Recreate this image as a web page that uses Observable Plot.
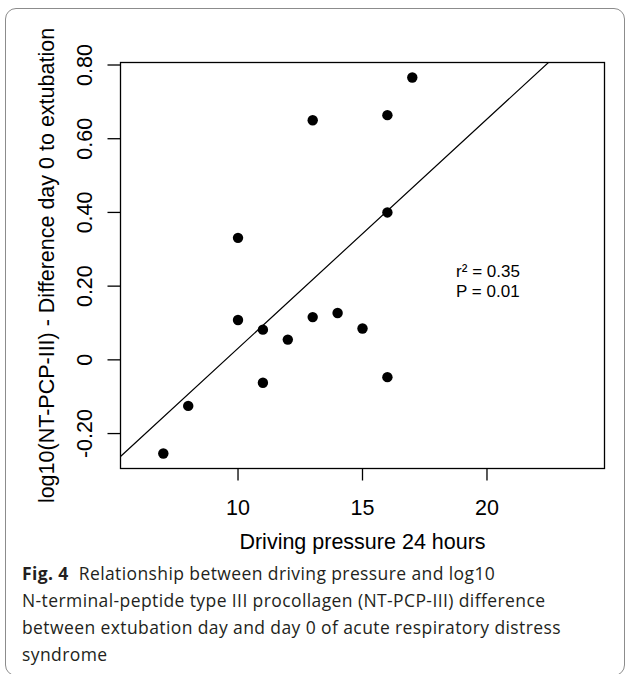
<!DOCTYPE html>
<html><head><meta charset="utf-8">
<script src="https://cdn.jsdelivr.net/npm/d3@7"></script>
<script src="https://cdn.jsdelivr.net/npm/@observablehq/plot@0.6"></script>
<style>
html,body{margin:0;padding:0;background:#fff;overflow:hidden}
#wrap{position:relative;width:626px;height:674px;overflow:hidden}
#border{position:absolute;left:5px;top:7.5px;width:620px;height:668px;border:1.5px solid #8c8c8c;border-radius:11px;box-sizing:border-box}
#chart{position:absolute;left:0;top:0}
#caption{position:absolute;left:22px;top:560px;width:600px;font-family:"Open Sans";font-size:17.5px;letter-spacing:0.4px;line-height:27px;color:#231f20;white-space:nowrap}
#caption b{margin-right:5px}
</style></head><body>
<div id="wrap"><div id="border"></div><div id="chart"></div>
<div id="caption"><b>Fig. 4</b> Relationship between driving pressure and log10<br>N-terminal-peptide type III procollagen (NT-PCP-III) difference<br>between extubation day and day 0 of acute respiratory distress<br>syndrome</div></div>
<script>
// Data
const drivingPressure = [7, 8, 10, 10, 11, 11, 12, 13, 13, 14, 15, 16, 16, 16, 17];
const ntpcpDiff = [-0.254, -0.125, 0.331, 0.108, 0.082, -0.062, 0.055, 0.650, 0.116, 0.127, 0.085, 0.664, 0.400, -0.047, 0.766];
const xTicks = [10, 15, 20];
const yTicks = [-0.2, 0, 0.2, 0.4, 0.6, 0.8];
const yTickLabels = ["-0.20", "0", "0.20", "0.40", "0.60", "0.80"];
const xLimits = [6, 24];
const statsLines = ["r\u00B2 = 0.35", "P = 0.01"];
const xTitle = "Driving pressure 24 hours";
const yTitle = "log10(NT-PCP-III) - Difference day 0 to extubation";

const points = drivingPressure.map((x, i) => ({x, y: ntpcpDiff[i]}));

// R-style 4% axis expansion
const pad = ([a, b]) => [a - 0.04 * (b - a), b + 0.04 * (b - a)];
const xDomain = pad(xLimits);
const yDomain = pad(d3.extent(ntpcpDiff));

// least-squares fit (abline)
const mx = d3.mean(drivingPressure), my = d3.mean(ntpcpDiff);
const sxy = d3.sum(points, p => (p.x - mx) * (p.y - my));
const sxx = d3.sum(points, p => (p.x - mx) ** 2);
const slope = sxy / sxx, intercept = my - slope * mx;
const fitLine = xDomain.map(x => ({x, y: intercept + slope * x}));

const F = "Liberation Sans, Arial, sans-serif";
const fs = 21.5;

const chart = Plot.plot({
  width: 626,
  height: 560,
  marginLeft: 120,
  marginRight: 22,
  marginTop: 62,
  marginBottom: 92,
  style: {fontFamily: F, background: "transparent"},
  x: {domain: xDomain, axis: null},
  y: {domain: yDomain, axis: null},
  marks: [
    Plot.axisX({ticks: xTicks, tickSize: 12.5, tickFormat: () => "", label: null, strokeWidth: 1.3}),
    Plot.axisY({ticks: yTicks, tickSize: 12.5, tickFormat: () => "", label: null, strokeWidth: 1.3}),
    Plot.text(xTicks, {x: d => d, frameAnchor: "bottom", dy: 40, text: d => String(d), fontSize: fs, fill: "black", textAnchor: "middle", lineAnchor: "middle"}),
    Plot.text(yTicks, {y: d => d, frameAnchor: "left", dx: -35, rotate: -90, text: (d, i) => yTickLabels[i], fontSize: fs, fill: "black", textAnchor: "middle", lineAnchor: "middle"}),
    Plot.text([xTitle], {frameAnchor: "bottom", dy: 74, text: d => d, fontSize: fs, fill: "black", textAnchor: "middle", lineAnchor: "middle"}),
    Plot.text([yTitle], {frameAnchor: "left", dx: -73, rotate: -90, text: d => d, fontSize: fs, fill: "black", textAnchor: "middle", lineAnchor: "middle"}),
    Plot.frame({stroke: "black", strokeWidth: 1.3}),
    Plot.line(fitLine, {x: "x", y: "y", stroke: "black", strokeWidth: 1.2, clip: true}),
    Plot.dot(points, {x: "x", y: "y", r: 5.2, fill: "black", stroke: "none"}),
    Plot.text(statsLines, {x: 18.76, y: (d, i) => [0.240, 0.186][i], text: d => d, textAnchor: "start", lineAnchor: "middle", fontSize: 17, fill: "black"})
  ]
});
document.getElementById("chart").appendChild(chart);
</script>
</body></html>
